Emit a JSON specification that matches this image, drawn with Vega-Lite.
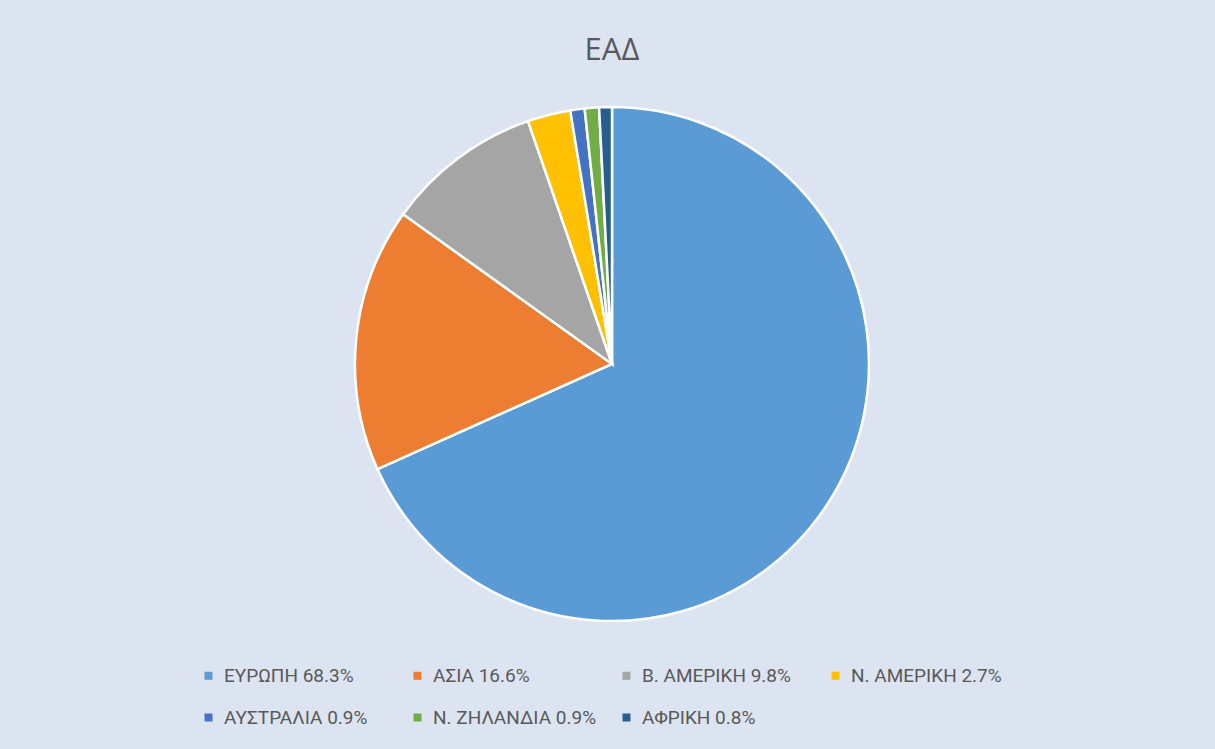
{
  "$schema": "https://vega.github.io/schema/vega-lite/v6.json",
  "autosize": "none",
  "width": 1206,
  "height": 568,
  "padding": {"top": 80, "bottom": 101, "left": 9, "right": 0},
  "background": "#dce4f2",
  "title": {
    "text": "ΕΑΔ",
    "fontSize": 31,
    "font": "Open Sans",
    "fontWeight": "normal",
    "color": "#595959",
    "offset": 13
  },
  "data": {
    "values": [
      {"region": "ΕΥΡΩΠΗ", "label": "ΕΥΡΩΠΗ 68.3%", "share": 68.3, "rank": 1},
      {"region": "ΑΣΙΑ", "label": "ΑΣΙΑ 16.6%", "share": 16.6, "rank": 2},
      {"region": "Β. ΑΜΕΡΙΚΗ", "label": "Β. ΑΜΕΡΙΚΗ 9.8%", "share": 9.8, "rank": 3},
      {"region": "Ν. ΑΜΕΡΙΚΗ", "label": "Ν. ΑΜΕΡΙΚΗ 2.7%", "share": 2.7, "rank": 4},
      {"region": "ΑΥΣΤΡΑΛΙΑ", "label": "ΑΥΣΤΡΑΛΙΑ 0.9%", "share": 0.9, "rank": 5},
      {"region": "Ν. ΖΗΛΑΝΔΙΑ", "label": "Ν. ΖΗΛΑΝΔΙΑ 0.9%", "share": 0.9, "rank": 6},
      {"region": "ΑΦΡΙΚΗ", "label": "ΑΦΡΙΚΗ 0.8%", "share": 0.8, "rank": 7}
    ]
  },
  "mark": {"type": "arc", "outerRadius": 257, "stroke": "white", "strokeWidth": 2.5},
  "encoding": {
    "theta": {"field": "share", "type": "quantitative", "stack": true},
    "order": {"field": "rank", "type": "quantitative"},
    "color": {
      "field": "label",
      "type": "nominal",
      "sort": null,
      "scale": {
        "domain": [
          "ΕΥΡΩΠΗ 68.3%",
          "ΑΣΙΑ 16.6%",
          "Β. ΑΜΕΡΙΚΗ 9.8%",
          "Ν. ΑΜΕΡΙΚΗ 2.7%",
          "ΑΥΣΤΡΑΛΙΑ 0.9%",
          "Ν. ΖΗΛΑΝΔΙΑ 0.9%",
          "ΑΦΡΙΚΗ 0.8%"
        ],
        "range": ["#5b9bd5", "#ed7d31", "#a5a5a5", "#ffc000", "#4472c4", "#70ad47", "#255e91"]
      },
      "legend": {
        "title": null,
        "orient": "none",
        "legendX": 190,
        "legendY": 586,
        "direction": "horizontal",
        "columns": 4,
        "gridAlign": "all",
        "symbolType": "square",
        "symbolSize": 64,
        "symbolStrokeWidth": 0,
        "symbolOffset": 0,
        "labelOffset": 6,
        "labelFont": "Roboto",
        "labelFontSize": 19,
        "labelColor": "#595959",
        "labelLimit": 300,
        "columnPadding": 20,
        "rowPadding": 22
      }
    }
  },
  "config": {"view": {"stroke": null}}
}
